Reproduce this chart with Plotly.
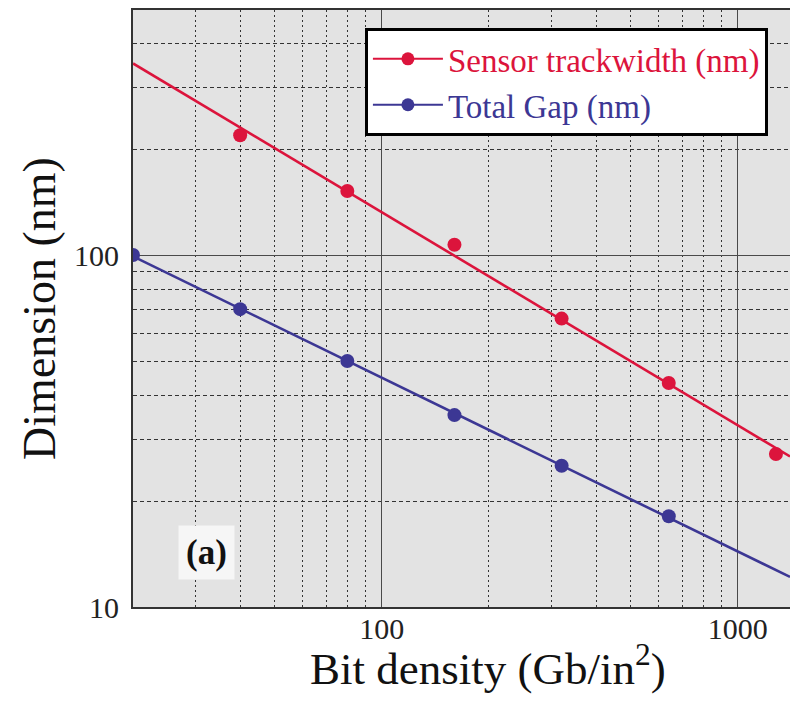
import numpy as np
import plotly.graph_objects as go

# Areal bit density (Gb/in^2)
density_gap = [20, 40, 80, 160, 320, 640]
density_trackwidth = [40, 80, 160, 320, 640, 1280]

# Dimensions (nm)
trackwidth_nm = [219, 152, 107, 66, 43.3, 27.2]
gap_nm = [100, 70.2, 50.0, 35.1, 25.2, 18.1]

RED = "#dc143c"
BLUE = "#3c3794"
SERIF = "Liberation Serif, Times New Roman, serif"

x_range = [20, 1402]
y_range = [10, 497]


def power_fit(x, y, x_eval):
    """Least-squares straight line in log-log space, evaluated at x_eval."""
    slope, intercept = np.polyfit(np.log10(x), np.log10(y), 1)
    xe = np.asarray(x_eval, dtype=float)
    return xe, 10 ** (intercept + slope * np.log10(xe))


fig = go.Figure()

series = [
    ("Sensor trackwidth (nm)", density_trackwidth, trackwidth_nm, RED),
    ("Total Gap (nm)", density_gap, gap_nm, BLUE),
]

for name, xs, ys, color in series:
    fx, fy = power_fit(xs, ys, x_range)
    fig.add_trace(go.Scatter(
        x=fx, y=fy, mode="lines", line=dict(color=color, width=2.6),
        showlegend=False, hoverinfo="skip",
    ))
    fig.add_trace(go.Scatter(
        x=xs, y=ys, mode="markers",
        marker=dict(color=color, size=14, line=dict(width=0)),
        showlegend=False,
    ))
    # legend entry (line + marker symbol)
    fig.add_trace(go.Scatter(
        x=[None], y=[None], mode="lines+markers",
        line=dict(color=color, width=2), marker=dict(color=color, size=13),
        name=f'<span style="color:{color}">{name}</span>',
    ))

x_minor = [v * d for d in (10, 100) for v in range(2, 10)]
y_minor = [v * d for d in (10, 100) for v in range(2, 10)]

fig.update_xaxes(
    type="log",
    range=[np.log10(x_range[0]), np.log10(x_range[1])],
    tickvals=[100, 1000], ticktext=["100", "1000"],
    tickfont=dict(family=SERIF, size=30, color="#222"),
    ticks="", ticklabelstandoff=-6,
    showgrid=True, gridcolor="#4a4a4a", gridwidth=1.4,
    minor=dict(tickvals=x_minor, showgrid=True, gridcolor="#333",
               griddash="2px,3px", gridwidth=1),
    showline=True, linecolor="#333", linewidth=1.8, mirror=True,
    zeroline=False,
)
fig.update_yaxes(
    type="log",
    range=[np.log10(y_range[0]), np.log10(y_range[1])],
    tickvals=[10, 100], ticktext=["10", "100"],
    tickfont=dict(family=SERIF, size=30, color="#222"),
    ticks="", ticklabelstandoff=6,
    showgrid=True, gridcolor="#4a4a4a", gridwidth=1.4,
    minor=dict(tickvals=y_minor, showgrid=True, gridcolor="#333",
               griddash="4px,3px", gridwidth=1),
    showline=True, linecolor="#333", linewidth=1.8,
    title=dict(text="Dimension (nm)",
               font=dict(family=SERIF, size=46, color="#111"), standoff=4),
    zeroline=False,
)

# x-axis title, set slightly right of the plot centre
fig.add_annotation(
    xref="paper", yref="paper", x=0.540, y=-0.098,
    xanchor="center", yanchor="middle",
    text="Bit density (Gb/in<sup>2</sup>)", showarrow=False,
    font=dict(family=SERIF, size=45, color="#111"),
)

# panel label
fig.add_annotation(
    xref="paper", yref="paper", x=0.1126, y=0.092,
    xanchor="center", yanchor="middle",
    text="<b>(a)</b>", showarrow=False,
    font=dict(family=SERIF, size=35, color="#111"),
    bgcolor="#f6f6f6", borderpad=7,
)

fig.update_layout(
    width=790, height=702,
    margin=dict(l=133, r=0, t=10, b=95),
    paper_bgcolor="white", plot_bgcolor="#e3e3e3",
    legend=dict(
        x=0.353, y=0.97, xanchor="left", yanchor="top",
        bgcolor="white", bordercolor="black", borderwidth=3,
        font=dict(family=SERIF, size=33, color="#222"),
        tracegroupgap=0, itemwidth=70,
    ),
    showlegend=True,
)

fig.write_html("out.html")
